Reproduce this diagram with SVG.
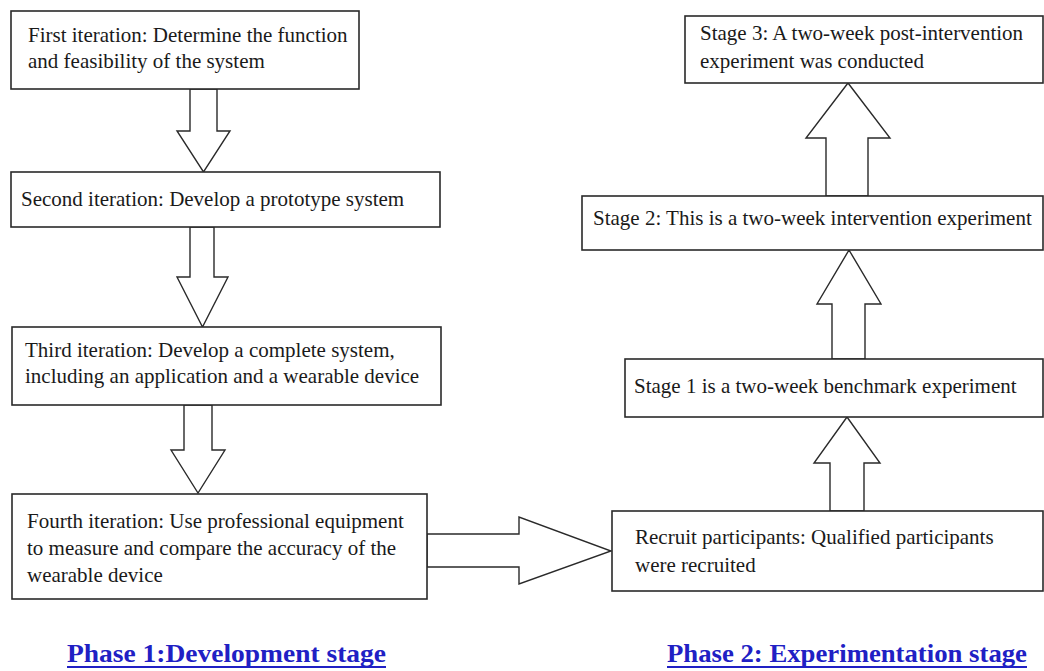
<svg xmlns="http://www.w3.org/2000/svg" width="1044" height="671" viewBox="0 0 1044 671">
<style>
.box{fill:#fff;stroke:#2a2a2a;stroke-width:1.6}
.arr{fill:#fff;stroke:#2a2a2a;stroke-width:1.4;stroke-linejoin:miter}
.t{font-family:"Liberation Serif","Times New Roman",serif;font-size:21px;fill:#1a1a1a}
.ph{font-family:"Liberation Serif","Times New Roman",serif;font-size:25px;font-weight:bold;fill:#2020c4}
.ul{stroke:#2020c4;stroke-width:2}
</style>
<rect width="1044" height="671" fill="#fff"/>
<g id="connectors">
<polygon class="arr" points="190,89 217,89 217,131 230,131 203.5,172 177,131 190,131"/>
<polygon class="arr" points="190,227 214,227 214,277 228,277 202.5,327 177,277 190,277"/>
<polygon class="arr" points="184,405 212,405 212,450 225,450 198,493 171,450 184,450"/>
<polygon class="arr" points="427,534 519,534 519,517 611,551 519,584 519,567 427,567"/>
<polygon class="arr" points="830,511 864,511 864,463 880,463 847,417 814,463 830,463"/>
<polygon class="arr" points="832,359 865,359 865,304 881,304 849,250 817,304 832,304"/>
<polygon class="arr" points="826,196 868,196 868,138 890,138 848,83 806,138 826,138"/>
</g>
<g id="iter1">
<rect class="box" x="11" y="11" width="348" height="78"/>
<text class="t" x="28" y="42">First iteration: Determine the function</text>
<text class="t" x="28" y="68">and feasibility of the system</text>
</g>
<g id="iter2">
<rect class="box" x="11" y="172" width="429" height="55"/>
<text class="t" x="21" y="206">Second iteration: Develop a prototype system</text>
</g>
<g id="iter3">
<rect class="box" x="12" y="327" width="429" height="78"/>
<text class="t" x="25" y="357">Third iteration: Develop a complete system,</text>
<text class="t" x="25" y="383">including an application and a wearable device</text>
</g>
<g id="iter4">
<rect class="box" x="12" y="494" width="415" height="105"/>
<text class="t" x="27" y="528">Fourth iteration: Use professional equipment</text>
<text class="t" x="27" y="555">to measure and compare the accuracy of the</text>
<text class="t" x="27" y="582">wearable device</text>
</g>
<g id="recruit">
<rect class="box" x="612" y="511" width="431" height="80"/>
<text class="t" x="635" y="544">Recruit participants: Qualified participants</text>
<text class="t" x="635" y="572">were recruited</text>
</g>
<g id="stage1">
<rect class="box" x="625" y="359" width="418" height="58"/>
<text class="t" x="634" y="393">Stage 1 is a two-week benchmark experiment</text>
</g>
<g id="stage2">
<rect class="box" x="582" y="196" width="461" height="54"/>
<text class="t" x="593" y="225">Stage 2: This is a two-week intervention experiment</text>
</g>
<g id="stage3">
<rect class="box" x="685" y="16" width="358" height="67"/>
<text class="t" x="700" y="40">Stage 3: A two-week post-intervention</text>
<text class="t" x="700" y="68">experiment was conducted</text>
</g>
<g id="phase1">
<text class="ph" x="67" y="662" textLength="319" lengthAdjust="spacingAndGlyphs">Phase 1:Development stage</text>
<line class="ul" x1="67" y1="667" x2="386" y2="667"/>
</g>
<g id="phase2">
<text class="ph" x="667" y="662" textLength="360" lengthAdjust="spacingAndGlyphs">Phase 2: Experimentation stage</text>
<line class="ul" x1="667" y1="667" x2="1027" y2="667"/>
</g>
</svg>
